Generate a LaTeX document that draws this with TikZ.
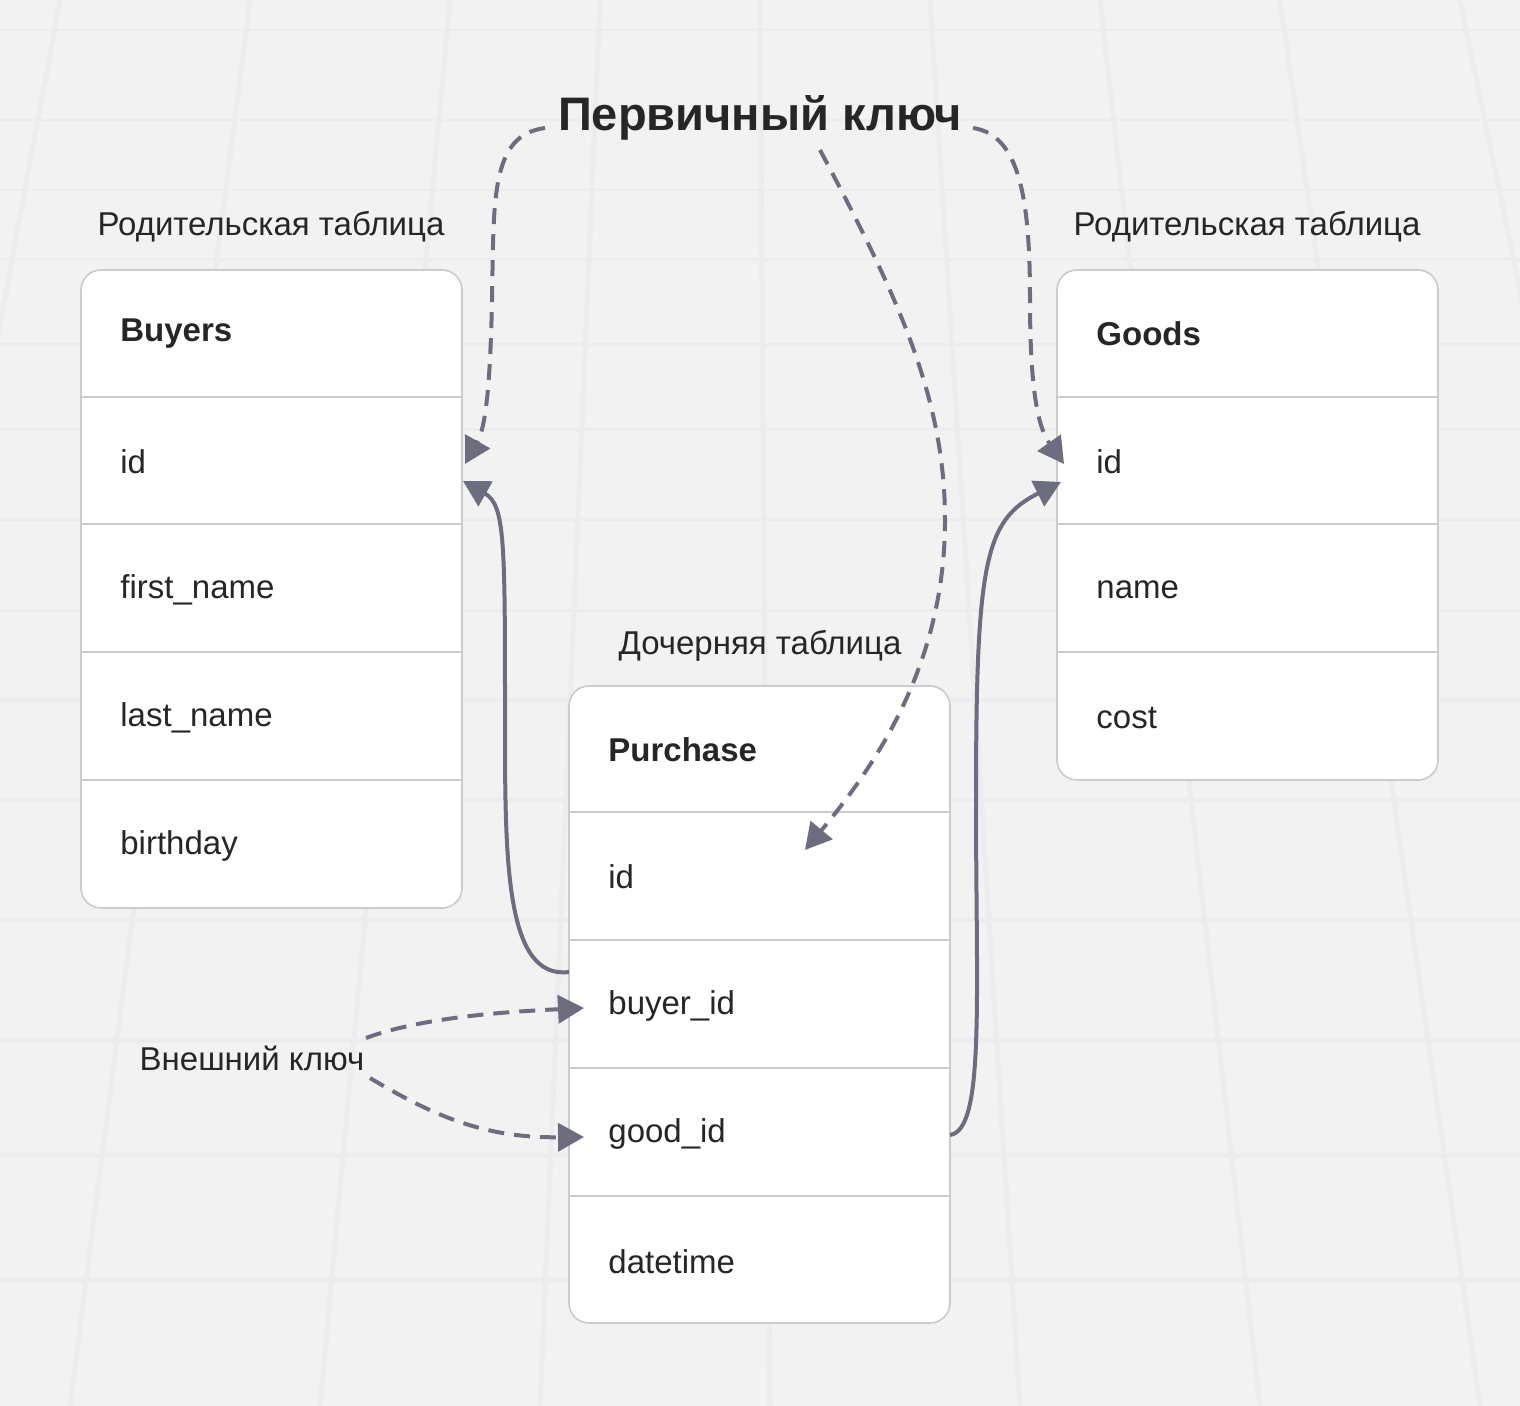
\documentclass[tikz,border=0pt]{standalone}
\usepackage{fontspec}
\setmainfont{Liberation Sans}
\usetikzlibrary{arrows.meta}
\definecolor{bg}{HTML}{F3F2F3}
\definecolor{grid}{HTML}{ECEBED}
\definecolor{arr}{HTML}{6C6D7E}
\definecolor{bord}{HTML}{CACACF}
\definecolor{txt}{HTML}{262626}
\tikzset{
 tbl/.style={draw=bord,line width=0.8pt,fill=white,rounded corners=10pt},
 row/.style={anchor=west,inner sep=0pt,font=\fontsize{16.5}{18}\selectfont,text=txt},
 hdr/.style={anchor=west,inner sep=0pt,font=\fontsize{16.5}{18}\selectfont\bfseries,text=txt},
 lbl/.style={font=\fontsize{16.5}{18}\selectfont,text=txt},
 fk/.style={draw=arr,line width=2pt,-{Triangle[length=13pt,width=14pt]}},
 pk/.style={fk,dash pattern=on 8pt off 5pt},
 sep/.style={draw=bord,line width=0.8pt}
}
\begin{document}
\begin{tikzpicture}[x=0.5pt,y=-0.5pt]
\fill[bg] (0,0) rectangle (1520,1406);
\useasboundingbox (0,0) rectangle (1520,1406);
% perspective grid
\foreach \y/\w in {30/2,120/2,190/2,260/3,345/3,430/3,520/3,610/3,700/4,800/4,920/4,1040/5,1155/5,1280/6}
  \draw[grid,line width=\w pt/2] (0,\y) -- (1520,\y);
\foreach \xb/\xt in {70/250,320/450,540/600,770/760,1020/930,1260/1100,1480/1280,-200/60,1750/1460}
  \draw[grid,line width=2.5pt] (\xb,1406) -- (\xt,0);
% Buyers
\draw[tbl] (81,270) rectangle (462,908);
\foreach \y in {397,524,652,780} \draw[sep] (81,\y) -- (462,\y);
\node[hdr] (bh) at (120,334) {Buyers};
\node[row] (bid) at (120,462) {id};
\node[row] (bfn) at (120,590) {first\_name};
\node[row] (bln) at (120,718) {last\_name};
\node[row] (bbd) at (120,846) {birthday};
% Goods
\draw[tbl] (1057,270) rectangle (1438,780);
\foreach \y in {397,524,652} \draw[sep] (1057,\y) -- (1438,\y);
\node[hdr] (gh) at (1096,334) {Goods};
\node[row] (gid) at (1096,462) {id};
\node[row] (gn) at (1096,590) {name};
\node[row] (gc) at (1096,718) {cost};
% Purchase
\draw[tbl] (569,686) rectangle (950,1323);
\foreach \y in {812,940,1068,1196} \draw[sep] (569,\y) -- (950,\y);
\node[hdr] (ph) at (608,750) {Purchase};
\node[row] (pid) at (608,877) {id};
\node[row] (pbid) at (608,1006) {buyer\_id};
\node[row] (pgid) at (608,1134) {good\_id};
\node[row] (pdt) at (608,1262) {datetime};
% labels
\node[lbl] (l1) at (271,227) {Родительская таблица};
\node[lbl] (l2) at (1247,227) {Родительская таблица};
\node[lbl] (l3) at (760,646) {Дочерняя таблица};
\node[lbl] (fk) at (252,1058) {Внешний ключ};
\node[font=\fontsize{23.5}{26}\selectfont\bfseries,text=txt] (pk) at (760,118) {Первичный ключ};
% coordinates
\coordinate (a1) at (569,972);
\coordinate (a1e) at (463,481);
\coordinate (a2) at (950,1135);
\coordinate (a2e) at (1061,482);
\coordinate (d1) at (545,128);
\coordinate (d1e) at (465,464);
\coordinate (d2) at (973,128);
\coordinate (d2e) at (1064,464);
\coordinate (d3) at (820,150);
\coordinate (d3e) at (805,850);
\coordinate (f1) at (366,1038);
\coordinate (f1e) at (584,1008);
\coordinate (f2) at (370,1078);
\coordinate (f2e) at (584,1137);
% solid FK arrows
\draw[fk] (a1) .. controls (505,980) and (505,860) .. (505,720) .. controls (505,540) and (505,505) .. (a1e);
\draw[fk] (a2) .. controls (985,1130) and (976,1000) .. (976,800) .. controls (976,560) and (985,520) .. (a2e);
% dashed PK arrows
\draw[pk] (d1) .. controls (490,135) and (494,200) .. (492,300) .. controls (490,400) and (484,430) .. (d1e);
\draw[pk] (d2) .. controls (1020,135) and (1030,200) .. (1030,300) .. controls (1030,400) and (1040,430) .. (d2e);
\draw[pk] (d3) .. controls (900,300) and (945,400) .. (945,520) .. controls (945,660) and (880,760) .. (d3e);
\draw[pk] (f1) .. controls (420,1018) and (500,1012) .. (f1e);
\draw[pk] (f2) .. controls (440,1120) and (490,1138) .. (f2e);
\end{tikzpicture}
\end{document}
